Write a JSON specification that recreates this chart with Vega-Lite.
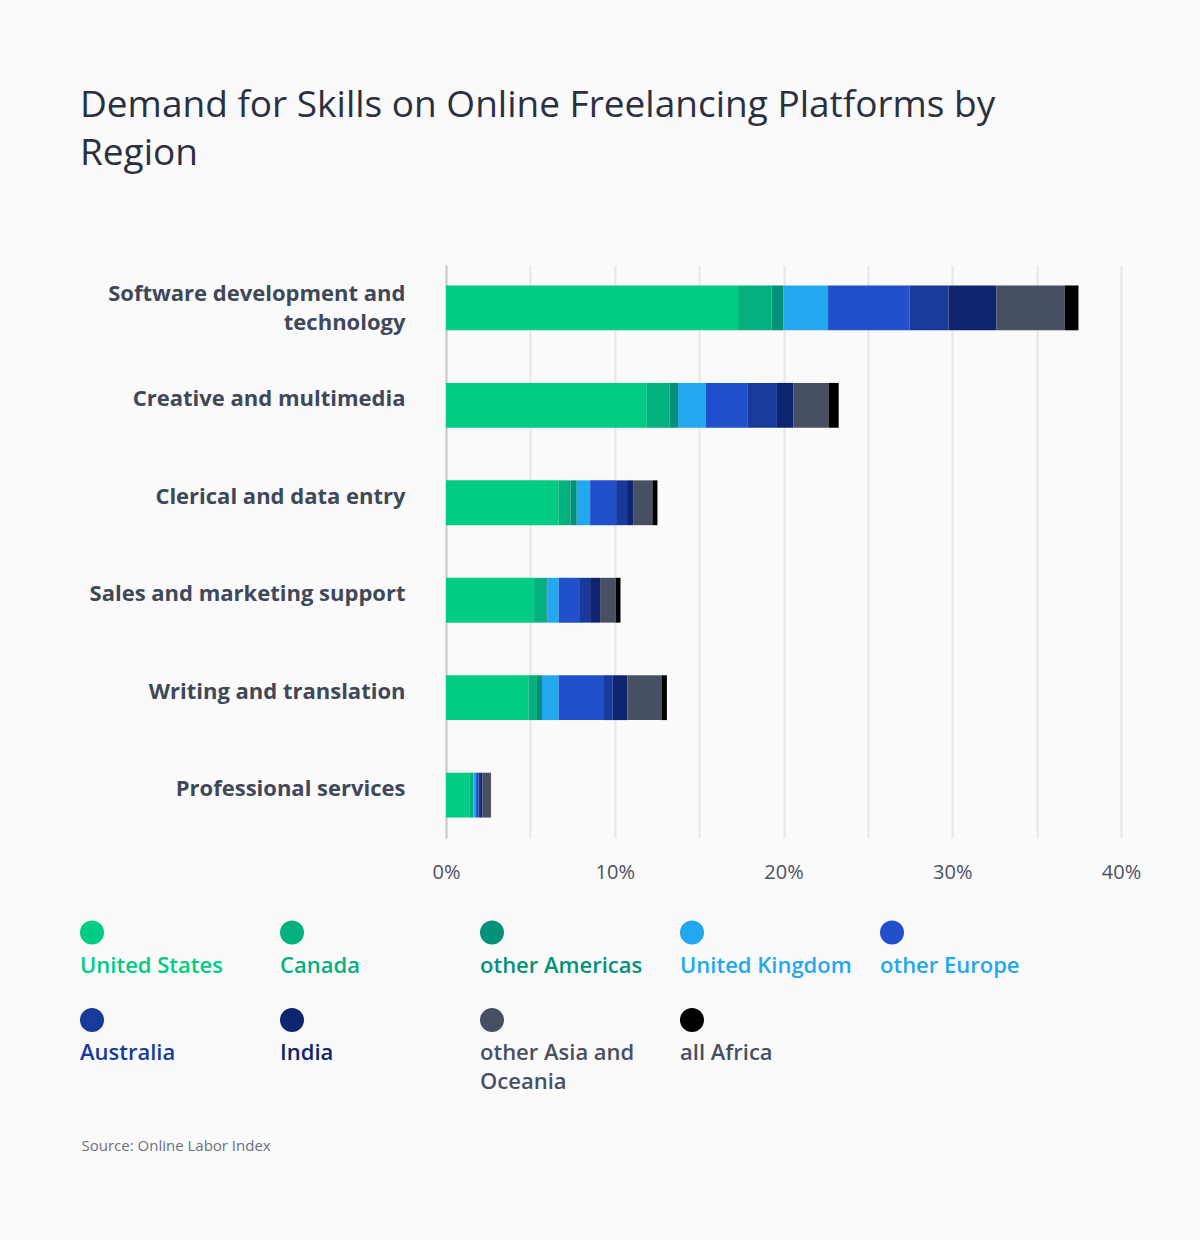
{
  "$schema": "https://vega.github.io/schema/vega-lite/v6.json",
  "width": 675,
  "height": 573,
  "autosize": {"type": "none"},
  "padding": {"left": 446, "top": 265, "right": 79, "bottom": 402},
  "background": "#fafafa",
  "title": {
    "text": ["Demand for Skills on Online Freelancing Platforms by", "Region"],
    "anchor": "start",
    "frame": "group",
    "dx": -366,
    "offset": 55,
    "baseline": "bottom",
    "lineHeight": 48,
    "font": "Open Sans",
    "fontSize": 37,
    "fontWeight": 400,
    "color": "#2a3042"
  },
  "data": {
    "values": [
      {"skill": "Software development and technology", "region": "United States", "share": 17.31},
      {"skill": "Software development and technology", "region": "Canada", "share": 1.99},
      {"skill": "Software development and technology", "region": "other Americas", "share": 0.70},
      {"skill": "Software development and technology", "region": "United Kingdom", "share": 2.64},
      {"skill": "Software development and technology", "region": "other Europe", "share": 4.82},
      {"skill": "Software development and technology", "region": "Australia", "share": 2.32},
      {"skill": "Software development and technology", "region": "India", "share": 2.84},
      {"skill": "Software development and technology", "region": "other Asia and Oceania", "share": 4.04},
      {"skill": "Software development and technology", "region": "all Africa", "share": 0.82},
      {"skill": "Creative and multimedia", "region": "United States", "share": 11.90},
      {"skill": "Creative and multimedia", "region": "Canada", "share": 1.35},
      {"skill": "Creative and multimedia", "region": "other Americas", "share": 0.50},
      {"skill": "Creative and multimedia", "region": "United Kingdom", "share": 1.65},
      {"skill": "Creative and multimedia", "region": "other Europe", "share": 2.49},
      {"skill": "Creative and multimedia", "region": "Australia", "share": 1.72},
      {"skill": "Creative and multimedia", "region": "India", "share": 0.97},
      {"skill": "Creative and multimedia", "region": "other Asia and Oceania", "share": 2.09},
      {"skill": "Creative and multimedia", "region": "all Africa", "share": 0.60},
      {"skill": "Clerical and data entry", "region": "United States", "share": 6.68},
      {"skill": "Clerical and data entry", "region": "Canada", "share": 0.69},
      {"skill": "Clerical and data entry", "region": "other Americas", "share": 0.38},
      {"skill": "Clerical and data entry", "region": "United Kingdom", "share": 0.79},
      {"skill": "Clerical and data entry", "region": "other Europe", "share": 1.54},
      {"skill": "Clerical and data entry", "region": "Australia", "share": 0.65},
      {"skill": "Clerical and data entry", "region": "India", "share": 0.36},
      {"skill": "Clerical and data entry", "region": "other Asia and Oceania", "share": 1.14},
      {"skill": "Clerical and data entry", "region": "all Africa", "share": 0.30},
      {"skill": "Sales and marketing support", "region": "United States", "share": 5.22},
      {"skill": "Sales and marketing support", "region": "Canada", "share": 0.72},
      {"skill": "Sales and marketing support", "region": "other Americas", "share": 0.05},
      {"skill": "Sales and marketing support", "region": "United Kingdom", "share": 0.69},
      {"skill": "Sales and marketing support", "region": "other Europe", "share": 1.26},
      {"skill": "Sales and marketing support", "region": "Australia", "share": 0.60},
      {"skill": "Sales and marketing support", "region": "India", "share": 0.59},
      {"skill": "Sales and marketing support", "region": "other Asia and Oceania", "share": 0.93},
      {"skill": "Sales and marketing support", "region": "all Africa", "share": 0.28},
      {"skill": "Writing and translation", "region": "United States", "share": 4.88},
      {"skill": "Writing and translation", "region": "Canada", "share": 0.51},
      {"skill": "Writing and translation", "region": "other Americas", "share": 0.30},
      {"skill": "Writing and translation", "region": "United Kingdom", "share": 0.99},
      {"skill": "Writing and translation", "region": "other Europe", "share": 2.63},
      {"skill": "Writing and translation", "region": "Australia", "share": 0.57},
      {"skill": "Writing and translation", "region": "India", "share": 0.87},
      {"skill": "Writing and translation", "region": "other Asia and Oceania", "share": 2.02},
      {"skill": "Writing and translation", "region": "all Africa", "share": 0.32},
      {"skill": "Professional services", "region": "United States", "share": 1.38},
      {"skill": "Professional services", "region": "Canada", "share": 0.24},
      {"skill": "Professional services", "region": "other Americas", "share": 0.02},
      {"skill": "Professional services", "region": "United Kingdom", "share": 0.14},
      {"skill": "Professional services", "region": "other Europe", "share": 0.14},
      {"skill": "Professional services", "region": "Australia", "share": 0.10},
      {"skill": "Professional services", "region": "India", "share": 0.13},
      {"skill": "Professional services", "region": "other Asia and Oceania", "share": 0.50},
      {"skill": "Professional services", "region": "all Africa", "share": 0.02}
    ]
  },
  "transform": [
    {"calculate": "indexof(['United States', 'Canada', 'other Americas', 'United Kingdom', 'other Europe', 'Australia', 'India', 'other Asia and Oceania', 'all Africa'], datum.region)", "as": "stackOrder"}
  ],
  "mark": {"type": "bar"},
  "encoding": {
    "y": {
      "field": "skill",
      "type": "nominal",
      "sort": ["Software development and technology", "Creative and multimedia", "Clerical and data entry", "Sales and marketing support", "Writing and translation", "Professional services"],
      "scale": {"paddingInner": 0.54, "paddingOuter": 0.21},
      "axis": {
        "title": null,
        "domainColor": "#c8c9ce",
        "domainWidth": 2,
        "ticks": false,
        "grid": false,
        "labelPadding": 41,
        "labelFont": "Open Sans",
        "labelFontSize": 22,
        "labelFontWeight": 700,
        "labelColor": "#3f4859",
        "labelLimit": 400,
        "labelLineHeight": 29,
        "labelExpr": "datum.value == 'Software development and technology' ? ['Software development and', 'technology'] : datum.value",
        "labelOffset": {"condition": {"test": "datum.value == 'Software development and technology'", "value": -14}, "value": -6}
      }
    },
    "x": {
      "field": "share",
      "type": "quantitative",
      "stack": "zero",
      "scale": {"domain": [0, 40], "nice": false},
      "axis": {
        "values": [0, 5, 10, 15, 20, 25, 30, 35, 40],
        "labelExpr": "datum.value % 10 == 0 ? datum.value + '%' : ''",
        "domain": false,
        "ticks": false,
        "grid": true,
        "gridColor": "#e6e6e8",
        "gridWidth": 2,
        "labelFlush": false,
        "labelPadding": 24,
        "labelFont": "Open Sans",
        "labelFontSize": 20,
        "labelFontWeight": 400,
        "labelColor": "#4a5262",
        "title": "Source: Online Labor Index",
        "titleX": -365,
        "titleY": 307,
        "titleAlign": "left",
        "titleAnchor": "start",
        "titleBaseline": "middle",
        "titleFont": "Open Sans",
        "titleFontSize": 15,
        "titleFontWeight": 400,
        "titleColor": "#6b7180"
      }
    },
    "order": {"field": "stackOrder", "type": "quantitative"},
    "color": {
      "field": "region",
      "type": "nominal",
      "sort": ["United States", "Canada", "other Americas", "United Kingdom", "other Europe", "Australia", "India", "other Asia and Oceania", "all Africa"],
      "scale": {
        "domain": ["United States", "Canada", "other Americas", "United Kingdom", "other Europe", "Australia", "India", "other Asia and Oceania", "all Africa"],
        "range": ["#00cc83", "#03b07e", "#04917a", "#23a8f0", "#2250cd", "#173a9b", "#0e246e", "#475063", "#000000"]
      },
      "legend": {
        "title": null,
        "orient": "none",
        "legendX": -366,
        "legendY": 641,
        "direction": "horizontal",
        "columns": 5,
        "gridAlign": "all",
        "symbolType": "circle",
        "symbolSize": 576,
        "symbolStrokeWidth": 0,
        "symbolOpacity": 1,
        "labelFont": "Open Sans",
        "labelFontSize": 22,
        "labelFontWeight": 600,
        "labelOffset": 0,
        "labelLimit": 240,
        "columnPadding": 28,
        "rowPadding": 17,
        "labelExpr": "datum.value == 'other Asia and Oceania' ? ['other Asia and', 'Oceania'] : datum.label",
        "encode": {
          "labels": {
            "update": {
              "dx": {"value": -24},
              "dy": {"value": 33},
              "lineHeight": {"value": 29},
              "fill": {"signal": "datum.value == 'other Europe' ? '#23a8f0' : datum.value == 'all Africa' ? '#475063' : scale('color', datum.value)"}
            }
          }
        }
      }
    }
  },
  "config": {"view": {"stroke": null}}
}
